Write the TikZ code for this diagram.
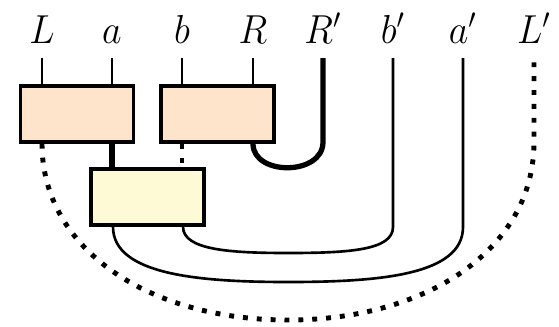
\documentclass[tikz,border=0pt]{standalone}
\usepackage{graphicx}
\usepackage{tikz}
\definecolor{peach}{RGB}{255,228,204}
\definecolor{paleyellow}{RGB}{255,250,214}
\newcommand{\lbl}[1]{\scalebox{1.5}[1.6]{$#1$}}
\begin{document}
\begin{tikzpicture}[x=0.02cm,y=-0.02cm,
  lab/.style={anchor=base,inner sep=0pt,font=\Large},
  boxstyle/.style={draw,line width=2pt,minimum width=2.26cm,minimum height=1.12cm,inner sep=0pt},
  stub/.style={line width=1.6pt},
  thinw/.style={line width=1.5pt},
  thickw/.style={line width=3pt},
  dotw/.style={line width=2.8pt,dash pattern=on 2.8pt off 5.1pt}]
\useasboundingbox (0,0) rectangle (559,326);
% labels
\node[lab] (lL)  at (42,43)  {\lbl{L}};
\node[lab] (lA)  at (112,43) {\lbl{a}};
\node[lab] (lB)  at (182,43) {\lbl{b}};
\node[lab] (lR)  at (253,43) {\lbl{R}};
\node[lab] (lRp) at (323,43) {\lbl{R'}};
\node[lab] (lBp) at (393,43) {\lbl{b'}};
\node[lab] (lAp) at (463,43) {\lbl{a'}};
\node[lab] (lLp) at (534,43) {\lbl{L'}};
% wire tops
\coordinate (tL)  at (42,58);
\coordinate (tA)  at (112,58);
\coordinate (tB)  at (182,58);
\coordinate (tR)  at (253,58);
\coordinate (tRp) at (323,58);
\coordinate (tBp) at (393,58);
\coordinate (tAp) at (463,58);
\coordinate (tLp) at (534,58);
% boxes
\node[boxstyle,fill=peach] (b1) at (77,114) {};
\node[boxstyle,fill=peach] (b2) at (217.5,114) {};
\node[boxstyle,fill=paleyellow] (y1) at (147.5,197) {};
% stubs
\draw[stub] (tL) -- (tL |- b1.north);
\draw[stub] (tA) -- (tA |- b1.north);
\draw[stub] (tB) -- (tB |- b2.north);
\draw[stub] (tR) -- (tR |- b2.north);
% between boxes
\draw[thickw] (tA |- b1.south) -- (tA |- y1.north);
\draw[dotw] (tB |- b2.south) -- (tB |- y1.north);
% cap R-R'
\draw[thickw] (tR |- b2.south) .. controls (253,176) and (323,176) .. (323,142) -- (tRp);
% inner thin
\coordinate (yb) at (183,225);
\coordinate (ya) at (113,225);
\draw[thinw] (yb |- y1.south) .. controls (183,250) and (230,253) .. (288,253)
  .. controls (350,253) and (393,250) .. (393,227) -- (tBp);
\draw[thinw] (ya |- y1.south) .. controls (113,275) and (200,282) .. (288,282)
  .. controls (380,282) and (463,275) .. (463,227) -- (tAp);
% dotted big
\draw[dotw] (tL |- b1.south) .. controls (42,250) and (150,320) .. (288,320)
  .. controls (426,320) and (534,250) .. (534,142) -- (tLp);
\end{tikzpicture}
\end{document}
